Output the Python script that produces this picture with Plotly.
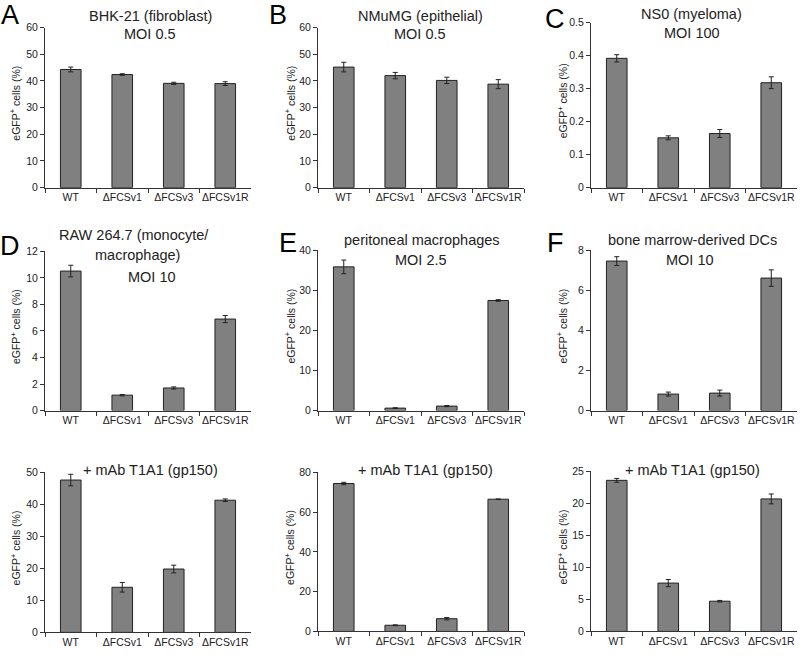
import plotly.graph_objects as go

categories = ["WT", "ΔFCSv1", "ΔFCSv3", "ΔFCSv1R"]

# values per panel (eGFP+ cells %) and error bars
A_vals = [44.3, 42.4, 39.1, 39.0]
A_err = [0.9, 0.3, 0.4, 0.7]
B_vals = [45.2, 42.0, 40.2, 38.8]
B_err = [1.8, 1.2, 1.2, 1.7]
C_vals = [0.392, 0.151, 0.164, 0.318]
C_err = [0.011, 0.006, 0.012, 0.018]
D_vals = [10.52, 1.16, 1.70, 6.90]
D_err = [0.44, 0.05, 0.08, 0.27]
E_vals = [35.9, 0.6, 1.1, 27.5]
E_err = [1.7, 0.1, 0.15, 0.2]
F_vals = [7.47, 0.82, 0.87, 6.62]
F_err = [0.22, 0.10, 0.15, 0.41]
G_vals = [47.6, 14.1, 19.8, 41.3]
G_err = [1.8, 1.5, 1.2, 0.4]
H_vals = [74.4, 3.1, 6.4, 66.5]
H_err = [0.6, 0.2, 0.6, 0.1]
I_vals = [23.6, 7.55, 4.72, 20.7]
I_err = [0.3, 0.56, 0.12, 0.77]

y_max = [60, 60, 0.5, 12, 40, 8, 50, 80, 25]
y_dtick = [10, 10, 0.1, 2, 10, 2, 10, 20, 5]

titles = [
    ["BHK-21 (fibroblast)", "MOI 0.5"],
    ["NMuMG (epithelial)", "MOI 0.5"],
    ["NS0 (myeloma)", "MOI 100"],
    ["RAW 264.7 (monocyte/", "macrophage)", "MOI 10"],
    ["peritoneal macrophages", "MOI 2.5"],
    ["bone marrow-derived DCs", "MOI 10"],
    ["+ mAb T1A1 (gp150)"],
    ["+ mAb T1A1 (gp150)"],
    ["+ mAb T1A1 (gp150)"],
]
letters = ["A", "B", "C", "D", "E", "F"]
y_title = "eGFP<sup>+</sup> cells (%)"

all_vals = [A_vals, B_vals, C_vals, D_vals, E_vals, F_vals, G_vals, H_vals, I_vals]
all_err = [A_err, B_err, C_err, D_err, E_err, F_err, G_err, H_err, I_err]

W, H = 800, 660
FONT = "Liberation Sans"
DARK = "#222222"

# pixel layout
col_x = [(45, 251), (318, 524), (591, 797)]
panel_y = [  # (top, bottom) pixels
    (22, 185), (22, 185), (17, 185),
    (250, 412), (249, 412), (249, 412),
    (475, 638), (475, 637), (474, 637),
]

def px(x):
    return x / W

def py(y):
    return 1 - y / H

fig = go.Figure()
layout = {}
annotations = []

for i in range(9):
    c = i % 3
    n = "" if i == 0 else str(i + 1)
    fig.add_trace(go.Bar(
        x=categories, y=all_vals[i],
        error_y=dict(type="data", array=all_err[i], color=DARK, thickness=1, width=2.5),
        marker=dict(color="#808080", line=dict(color=DARK, width=1)),
        xaxis="x" + n, yaxis="y" + n, showlegend=False, hoverinfo="skip",
    ))
    x0, x1 = col_x[c]
    top, bot = panel_y[i]
    layout["xaxis" + n] = dict(
        domain=[px(x0), px(x1)], anchor="y" + n,
        showline=True, linecolor="#333333", linewidth=1,
        ticks="outside", tickson="boundaries", ticklen=4, tickcolor="#333333",
        tickangle=0,
        tickfont=dict(size=10.5, color=DARK, family=FONT),
        showgrid=False, zeroline=False, fixedrange=True,
    )
    layout["yaxis" + n] = dict(
        domain=[py(bot), py(top)], anchor="x" + n,
        range=[0, y_max[i]], dtick=y_dtick[i], tick0=0,
        showline=True, linecolor="#333333", linewidth=1,
        ticks="outside", ticklen=4, tickcolor="#333333",
        tickfont=dict(size=10.5, color=DARK, family=FONT),
        showgrid=False, zeroline=False, fixedrange=True,
    )

# titles (per line positions measured)
title_pos = [
    [(150, 10), (150, 29)],
    [(420, 10), (420, 29)],
    [(691, 8), (692, 28)],
    [(134, 233), (137, 254), (152, 276)],
    [(422, 238), (421, 259)],
    [(692, 238), (690, 259)],
    [(150, 473)],
    [(425, 473)],
    [(692, 473)],
]
for i in range(9):
    for line, (tx, ty) in zip(titles[i], title_pos[i]):
        annotations.append(dict(
            text=line, x=px(tx), y=py(ty), xref="paper", yref="paper",
            xanchor="center", yanchor="middle", showarrow=False,
            font=dict(size=14.5, color=DARK, family=FONT),
        ))

# y axis titles
ytitle_x = [15, 290, 562]
for i in range(9):
    c = i % 3
    top, bot = panel_y[i]
    annotations.append(dict(
        text=y_title, x=px(ytitle_x[c]), y=py((top + bot) / 2 - 4),
        xref="paper", yref="paper", xanchor="center", yanchor="middle",
        textangle=-90, showarrow=False,
        font=dict(size=10.5, color=DARK, family=FONT),
    ))

# panel letters
letter_pos = [(10, 9), (278, 9), (555, 13), (10, 244), (288, 241), (555, 241)]
for L, (lx, ly) in zip(letters, letter_pos):
    annotations.append(dict(
        text=L, x=px(lx), y=py(ly), xref="paper", yref="paper",
        xanchor="center", yanchor="middle", showarrow=False,
        font=dict(size=27, color="#000000", family=FONT),
    ))

fig.update_layout(
    width=W, height=H,
    margin=dict(l=0, r=0, t=0, b=0),
    paper_bgcolor="white", plot_bgcolor="white",
    bargap=0.6,
    annotations=annotations,
    font=dict(family=FONT, color=DARK),
    **layout,
)

fig.write_html(
    "out.html",
    config={"displayModeBar": False},
    post_script="document.body.style.margin='0';document.body.style.overflow='hidden';",
)
